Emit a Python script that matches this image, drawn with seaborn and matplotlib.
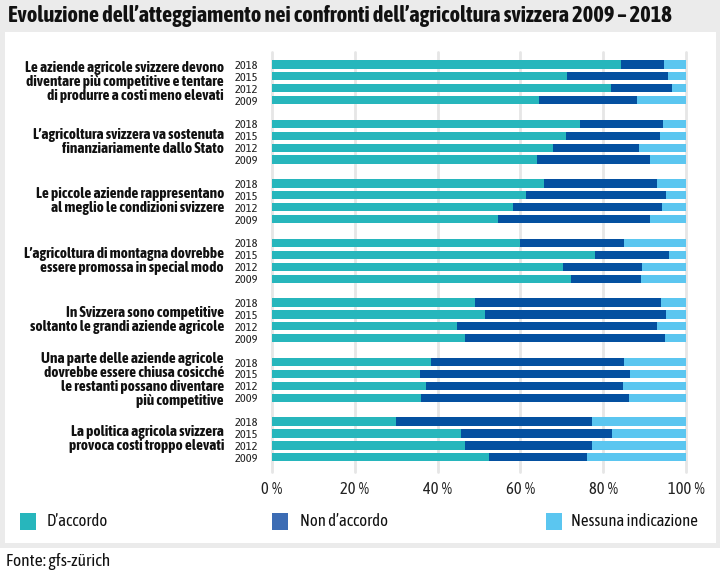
import numpy as np
import pandas as pd
import matplotlib
matplotlib.use("Agg")
import matplotlib.pyplot as plt
from matplotlib.patches import Rectangle
from matplotlib.transforms import blended_transform_factory
import seaborn as sns

questions = [
    "Le aziende agricole svizzere devono\ndiventare più competitive e tentare\ndi produrre a costi meno elevati",
    "L’agricoltura svizzera va sostenuta\nfinanziariamente dallo Stato",
    "Le piccole aziende rappresentano\nal meglio le condizioni svizzere",
    "L’agricoltura di montagna dovrebbe\nessere promossa in special modo",
    "In Svizzera sono competitive\nsoltanto le grandi aziende agricole",
    "Una parte delle aziende agricole\ndovrebbe essere chiusa cosicché\nle restanti possano diventare\npiù competitive",
    "La politica agricola svizzera\nprovoca costi troppo elevati",
]
years = ["2018", "2015", "2012", "2009"]

# values per question, in year order 2018, 2015, 2012, 2009
agree = [
    [84.4, 71.3, 81.9, 64.4],
    [74.4, 71.0, 67.8, 63.9],
    [65.8, 61.4, 58.2, 54.7],
    [60.0, 78.0, 70.3, 72.3],
    [49.0, 51.5, 44.6, 46.5],
    [38.3, 35.7, 37.3, 36.1],
    [30.0, 45.6, 46.5, 52.4],
]
disagree = [
    [10.4, 24.3, 14.6, 23.8],
    [20.0, 22.6, 20.9, 27.5],
    [27.3, 33.8, 36.1, 36.7],
    [25.1, 17.8, 19.0, 16.8],
    [44.9, 43.7, 48.5, 48.5],
    [46.7, 50.8, 47.6, 50.2],
    [47.3, 36.6, 30.7, 23.6],
]
no_answer = [
    [5.2, 4.4, 3.5, 11.8],
    [5.6, 6.4, 11.3, 8.6],
    [6.9, 4.8, 5.7, 8.6],
    [14.9, 4.2, 10.7, 10.9],
    [6.1, 4.8, 6.9, 5.0],
    [15.0, 13.5, 15.1, 13.7],
    [22.7, 17.8, 22.8, 24.0],
]
series = ["D’accordo", "Non d’accordo", "Nessuna indicazione"]
ticks = [0, 20, 40, 60, 80, 100]
title = "Evoluzione dell’atteggiamento nei confronti dell’agricoltura svizzera 2009 – 2018"

c_agree = "#27b6bc"
c_dis = "#0450a0"
c_none = "#5bc6f0"
legend_colors = ["#27b6bc", "#3c6cb4", "#5bc6f0"]

rows = []
for g in range(len(questions)):
    for i, yr in enumerate(years):
        rows.append({"pos": g * 5 + i, "year": yr,
                     "agree": agree[g][i], "dis": disagree[g][i], "none": no_answer[g][i]})
df = pd.DataFrame(rows)
df["c1"] = df["agree"]
df["c2"] = df["agree"] + df["dis"]
df["c3"] = df["c2"] + df["none"]

sns.set_style("white")
plt.rcParams["font.family"] = ["Asap Condensed", "DejaVu Sans"]

fig = plt.figure(figsize=(7.2, 5.75), dpi=100)
renderer = fig.canvas.get_renderer()


def fit(txt, target_px, weight="normal"):
    # font size that makes the text about target_px wide
    t = fig.text(0, 0, txt, fontsize=10, fontweight=weight)
    w = t.get_window_extent(renderer).width
    t.remove()
    return 10 * target_px / w


fs_q = fit(questions[0], 196, "bold")
fs_title = fit(title, 657, "bold")
fs_year = fit("2018", 23)
fs_tick = fit("20\u2009%", 29)
fs_leg = fit(series[2], 127)
fs_src = fit("Fonte: gfs-zürich", 104)

fig.patch.set_facecolor("white")
fig.patches.append(Rectangle((0, 1 - 548 / 575), 1, 548 / 575, transform=fig.transFigure,
                             facecolor="#ebebeb", edgecolor="none", zorder=-2))
fig.patches.append(Rectangle((5 / 720, 1 - 543 / 575), 711 / 720, 511 / 575, transform=fig.transFigure,
                             facecolor="white", edgecolor="none", zorder=-1))

ax = fig.add_axes([272 / 720, 1 - 468 / 575, 414 / 720, 412 / 575])
ax.set_facecolor("none")

for col, c in [("c3", c_none), ("c2", c_dis), ("c1", c_agree)]:
    sns.barplot(data=df, x=col, y="pos", orient="h", native_scale=True, color=c,
                saturation=1, width=0.7, errorbar=None, ax=ax, linewidth=0, zorder=3)

ax.set_xlim(0, 100)
ax.set_ylim(33.9, -0.7)
ax.set_xticks(ticks)
ax.set_xticklabels([f"{t}\u2009%" for t in ticks], fontsize=fs_tick, color="#222222")
ax.set_yticks(df["pos"])
ax.set_yticklabels(df["year"], fontsize=fs_year, color="#222222")
ax.tick_params(axis="both", length=0)
ax.tick_params(axis="x", pad=9)
ax.tick_params(axis="y", pad=10)
ax.set_xlabel("")
ax.set_ylabel("")
for t in ticks:
    ax.axvline(t, color="#e6e6e6", lw=2, zorder=0, ymin=-0.01, ymax=1.01, clip_on=False)
for s in ax.spines.values():
    s.set_visible(False)

trans = blended_transform_factory(ax.transAxes, ax.transData)
for g, q in enumerate(questions):
    ax.text(-48 / 414, g * 5 + 1.5, q, transform=trans, ha="right", va="center",
            fontsize=fs_q, fontweight="bold", color="#111111", linespacing=1.0)

fig.text(8 / 720, 1 - 16 / 575, title, ha="left", va="center",
         fontsize=fs_title, fontweight="bold", color="#111111")

leg_sq = [20, 272, 546]
leg_tx = [47, 300, 571]
for xs, xt, lab, c in zip(leg_sq, leg_tx, series, legend_colors):
    fig.patches.append(Rectangle((xs / 720, 1 - 530 / 575), 16 / 720, 17 / 575,
                                 transform=fig.transFigure, facecolor=c, edgecolor="none"))
    fig.text(xt / 720, 1 - 521 / 575, lab, ha="left", va="center", fontsize=fs_leg, color="#111111")

fig.text(6 / 720, 1 - 562 / 575, "Fonte: gfs-zürich", ha="left", va="center", fontsize=fs_src, color="#111111")

fig.savefig("out.png", dpi=100)
